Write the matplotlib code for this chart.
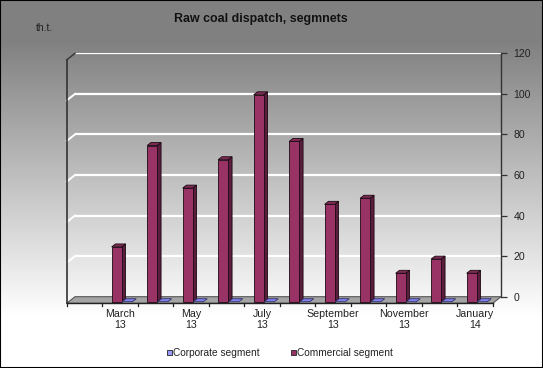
import numpy as np
import matplotlib
matplotlib.use("Agg")
import matplotlib.pyplot as plt
from matplotlib.patches import Polygon, Rectangle
from matplotlib import transforms as mtransforms

# ---- data ----
months = ["February\n13", "March\n13", "April\n13", "May\n13", "June\n13", "July\n13",
          "August\n13", "September\n13", "October\n13", "November\n13", "December\n13", "January\n14"]
shown_labels = [False, True, False, True, False, True, False, True, False, True, False, True]
corporate = [np.nan, 0, 0, 0, 0, 0, 0, 0, 0, 0, 0, 0]
commercial = [np.nan, 27, 77, 56, 70, 102, 79, 48, 51, 14, 21, 14]
yticks = [0, 20, 40, 60, 80, 100, 120]
title = "Raw coal dispatch, segmnets"
unit = "th.t."
legend_names = ["Corporate segment", "Commercial segment"]

plt.rcParams['font.family'] = ['Liberation Sans', 'DejaVu Sans']

W, H = 543, 368
fig = plt.figure(figsize=(W / 100, H / 100), dpi=100)

# background gradient
bg = fig.add_axes([0, 0, 1, 1], zorder=-10)
rows = np.arange(H)
g = np.clip(128 + 127 * (rows - 40) / 275.0, 128, 255) / 255.0
img = np.repeat(g[:, None], 4, axis=1)
bg.imshow(np.dstack([img, img, img]), aspect='auto', extent=[0, 1, 0, 1], origin='upper')
bg.set_axis_off()

# main axes = back wall
L, R, T, B = 75, 501, 53.3, 296.7
ax = fig.add_axes([L / W, (H - B) / H, (R - L) / W, (B - T) / H])
ax.patch.set_alpha(0)
n = len(months)
ax.set_xlim(-0.5, n - 0.5)
ax.set_ylim(0, 120)
pxx = (R - L) / n
pxy = (B - T) / 120.0


def off(dx, dy):
    return dx / pxx, -dy / pxy


for s in ['left', 'top', 'bottom']:
    ax.spines[s].set_visible(False)
ax.spines['right'].set_color('#333333')
ax.spines['right'].set_linewidth(1.0)
ax.yaxis.tick_right()
ax.set_yticks(yticks)
ax.set_yticklabels([str(t) for t in yticks])
ax.tick_params(axis='y', direction='out', length=4, width=0.9, pad=5,
               labelsize=7.6, colors='#333333', labelcolor='#222222')
ax.set_xticks([])
ax.yaxis.grid(True, color='white', lw=1.6)
ax.set_axisbelow(True)

fdx, fdy = off(-8.3, 6.6)
x0, x1 = -0.5, n - 0.5

# left wall gridlines + edges
for t in yticks[1:-1]:
    ax.plot([x0, x0 + fdx], [t, t + fdy], color='white', lw=1.4, clip_on=False, zorder=1)
ax.plot([x0 + fdx, x0 + fdx], [fdy, 120 + fdy], color='#333333', lw=1.2, clip_on=False, zorder=3)
ax.plot([x0, x0 + fdx], [120, 120 + fdy], color='#333333', lw=1.0, clip_on=False, zorder=3)

# floor
floor = Polygon([(x0, 0), (x1, 0), (x1 + fdx, fdy), (x0 + fdx, fdy)], closed=True,
                facecolor='#a4a4a4', edgecolor='#555555', lw=0.8, clip_on=False, zorder=2)
ax.add_patch(floor)
ax.plot([x0 + fdx, x1 + fdx], [fdy, fdy], color='#222222', lw=1.0, clip_on=False, zorder=3)
tickdy = -3 / pxy
for k in range(n + 1):
    ax.plot([k - 0.5 + fdx, k - 0.5 + fdx], [fdy, fdy + tickdy], color='#222222', lw=0.9,
            clip_on=False, zorder=3)

# bars
ox, oy = off(-6.3, 5.0)
bx, by = off(-2.5, 2.0)
bw = 0.285


def bar3d(xl, v, front, side, top, edge):
    xr = xl + bw
    if v > 0:
        ax.add_patch(Polygon([(xr + ox, oy), (xr + ox, v + oy), (xr + bx, v + by), (xr + bx, by)],
                             closed=True, fc=side, ec=edge, lw=0.6, clip_on=False, zorder=4))
        ax.add_patch(Polygon([(xl + ox, oy), (xr + ox, oy), (xr + ox, v + oy), (xl + ox, v + oy)],
                             closed=True, fc=front, ec=edge, lw=0.6, clip_on=False, zorder=4))
    ax.add_patch(Polygon([(xl + ox, v + oy), (xr + ox, v + oy), (xr + bx, v + by), (xl + bx, v + by)],
                         closed=True, fc=top, ec=edge, lw=0.6, clip_on=False, zorder=4))


for i in range(n):
    if not np.isnan(commercial[i]):
        bar3d(i - 0.29, commercial[i], '#993366', '#5a1d3d', '#7d2a55', '#1a0a12')
    if not np.isnan(corporate[i]):
        bar3d(i + 0.01, corporate[i], '#9999ff', '#6666cc', '#8080ee', '#333366')

# x labels
lab_tr = mtransforms.offset_copy(ax.transData, fig=fig, x=0, y=-6.0, units='dots')
for i in range(n):
    if shown_labels[i]:
        ax.text(i + fdx, fdy, months[i], transform=lab_tr, ha='center', va='top',
                fontsize=7.7, color='#222222', linespacing=1.05, clip_on=False)


def fx(x):
    return x / W


def fy(y):
    return 1 - y / H


fig.text(fx(261), fy(19), title, ha='center', va='center', fontsize=8.9,
         fontweight='bold', color='#111111')
fig.text(fx(36), fy(28), unit, ha='left', va='center', fontsize=7.5, color='#222222')

# legend
leg = [(167.3, legend_names[0], '#9999ff'), (290.7, legend_names[1], '#993366')]
for lx, name, col in leg:
    fig.patches.append(Rectangle((fx(lx), fy(354.5)), 5 / W, 5 / H, transform=fig.transFigure,
                                 fc=col, ec='#222222', lw=0.6))
    fig.text(fx(lx + 6), fy(352.5), name, ha='left', va='center', fontsize=7.3, color='#222222')

# border
fig.patches.append(Rectangle((0, 0), 1, 1, transform=fig.transFigure, fill=False,
                             ec='black', lw=1.5))

fig.savefig("out.png", dpi=100)
